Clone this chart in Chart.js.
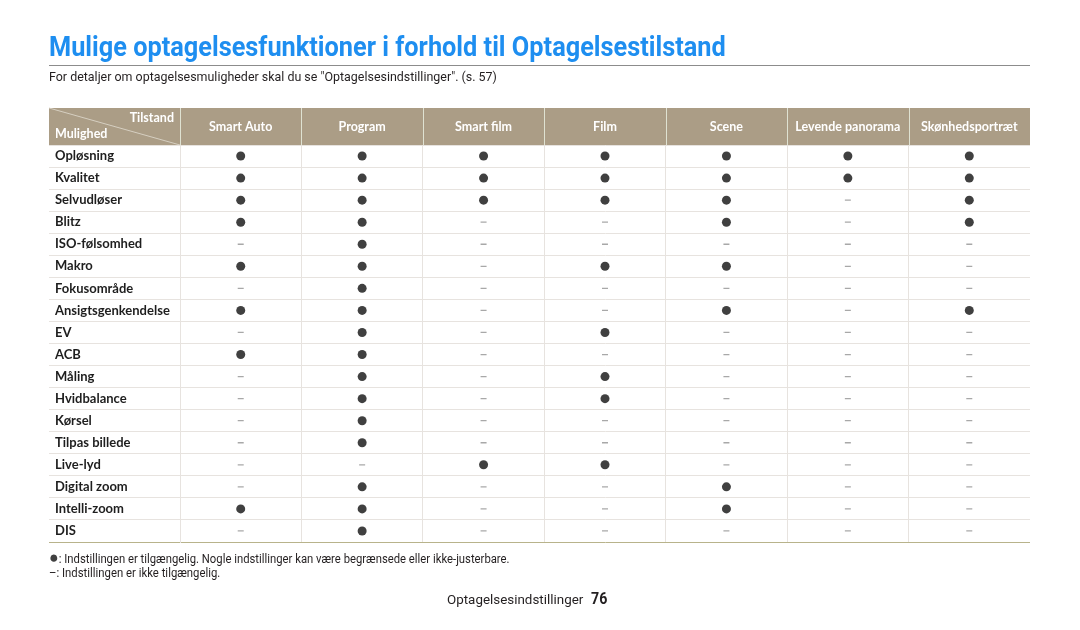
<!DOCTYPE html>
<html>
<head>
<meta charset="utf-8">
<script src="https://cdn.jsdelivr.net/npm/chart.js@4.4.1/dist/chart.umd.min.js"></script>
<style>
  html, body { margin: 0; padding: 0; background: #fff; }
  #page { position: relative; width: 1080px; height: 630px; overflow: hidden; }
  #modeChart { position: absolute; left: 0; top: 0; }
  .txt { position: absolute; white-space: nowrap; line-height: 1; font-family: 'Roboto', sans-serif; color: #231f20; transform-origin: 0 0; }
  #title { left: 49px; top: 34px; font-size: 27px; font-weight: bold; color: #1e8ef0; }
  #rule { position: absolute; left: 49px; top: 65px; width: 981px; height: 1px; background: #8c8c8c; }
  #subtitle { left: 49px; top: 70px; font-size: 13.5px; }
  #note1 { left: 49px; top: 551px; font-size: 12px; }
  #note2 { left: 49px; top: 566.5px; font-size: 12px; }
  #note1 .dot { font-size: 17px; line-height: 12px; color: #404040; }
  #pageName { left: 447px; top: 593px; font-size: 13px; }
  #pageNum { left: 591px; top: 591px; font-size: 16px; font-weight: bold; }
</style>
</head>
<body>
<div id="page">
  <canvas id="modeChart" width="1080" height="630"></canvas>
  <div class="txt" id="title">Mulige optagelsesfunktioner i forhold til Optagelsestilstand</div>
  <div id="rule"></div>
  <div class="txt" id="subtitle">For detaljer om optagelsesmuligheder skal du se "Optagelsesindstillinger". (s. 57)</div>
  <div class="txt" id="note1"><span class="dot">●</span>: Indstillingen er tilgængelig. Nogle indstillinger kan være begrænsede eller ikke-justerbare.</div>
  <div class="txt" id="note2">–: Indstillingen er ikke tilgængelig.</div>
  <div class="txt" id="pageName">Optagelsesindstillinger</div>
  <div class="txt" id="pageNum">76</div>
</div>
<script>
// Modes (columns) and options (rows)
const modes = ['Smart Auto', 'Program', 'Smart film', 'Film', 'Scene', 'Levende panorama', 'Skønhedsportræt'];
const features = ['Opløsning', 'Kvalitet', 'Selvudløser', 'Blitz', 'ISO-følsomhed', 'Makro', 'Fokusområde',
    'Ansigtsgenkendelse', 'EV', 'ACB', 'Måling', 'Hvidbalance', 'Kørsel', 'Tilpas billede', 'Live-lyd',
    'Digital zoom', 'Intelli-zoom', 'DIS'];

// 1 = available (dot), 0 = not available (dash), one value per row above
const smartAuto    = [1, 1, 1, 1, 0, 1, 0, 1, 0, 1, 0, 0, 0, 0, 0, 0, 1, 0];
const program      = [1, 1, 1, 1, 1, 1, 1, 1, 1, 1, 1, 1, 1, 1, 0, 1, 1, 1];
const smartFilm    = [1, 1, 1, 0, 0, 0, 0, 0, 0, 0, 0, 0, 0, 0, 1, 0, 0, 0];
const film         = [1, 1, 1, 0, 0, 1, 0, 0, 1, 0, 1, 1, 0, 0, 1, 0, 0, 0];
const scene        = [1, 1, 1, 1, 0, 1, 0, 1, 0, 0, 0, 0, 0, 0, 0, 1, 1, 0];
const livePanorama = [1, 1, 0, 0, 0, 0, 0, 0, 0, 0, 0, 0, 0, 0, 0, 0, 0, 0];
const beautyShot   = [1, 1, 1, 1, 0, 0, 0, 1, 0, 0, 0, 0, 0, 0, 0, 0, 0, 0];

const columns = [smartAuto, program, smartFilm, film, scene, livePanorama, beautyShot];

const headerColor = '#ab9d86';
const gridColor = '#e7e3df';
const bottomColor = '#b8b38b';
const rowFont = { family: "'Lato', sans-serif", size: 13, weight: 'bold' };
const headFont = { family: "'Lato', sans-serif", size: 12.5, weight: 'bold' };

// Split cells into available / not available points
const onPoints = [];
const offPoints = [];
columns.forEach((col, i) => {
    col.forEach((v, j) => {
        (v ? onPoints : offPoints).push({ x: modes[i], y: features[j] });
    });
});

// Header band, column separators and the corner cell
const headerPlugin = {
    id: 'headerBand',
    beforeDraw(chart) {
        const { ctx, chartArea } = chart;
        const x = chart.scales.x;
        const left = 49;
        const colWidth = x.width / modes.length;
        ctx.save();
        ctx.fillStyle = headerColor;
        ctx.fillRect(left, x.top, chartArea.right - left, x.bottom - x.top);

        ctx.strokeStyle = '#dfe2d2';
        ctx.lineWidth = 1;
        for (let i = 0; i < modes.length; i++) {
            const xb = Math.round(x.getPixelForValue(i) - colWidth / 2) + 0.5;
            ctx.beginPath();
            ctx.moveTo(xb, x.top);
            ctx.lineTo(xb, x.bottom);
            ctx.stroke();
        }

        ctx.strokeStyle = '#d6cfc1';
        ctx.beginPath();
        ctx.moveTo(left, x.top);
        ctx.lineTo(chartArea.left, x.bottom);
        ctx.stroke();

        ctx.fillStyle = '#fff';
        ctx.font = "bold 12.5px 'Lato', sans-serif";
        ctx.textBaseline = 'alphabetic';
        ctx.textAlign = 'right';
        ctx.fillText('Tilstand', chartArea.left - 6, x.top + 14);
        ctx.textAlign = 'left';
        ctx.fillText('Mulighed', 55, x.top + 30);
        ctx.restore();
    }
};

const ctx = document.getElementById('modeChart').getContext('2d');
const modeChart = new Chart(ctx, {
    type: 'scatter',
    data: {
        datasets: [{
            label: 'Tilgængelig',
            data: onPoints,
            pointStyle: 'circle',
            pointRadius: 4.5,
            pointBackgroundColor: '#404040',
            pointBorderWidth: 0
        }, {
            label: 'Ikke tilgængelig',
            data: offPoints,
            pointStyle: 'line',
            pointRadius: 3,
            pointBorderColor: '#a8a8a8',
            pointBorderWidth: 1.3
        }]
    },
    options: {
        responsive: false,
        animation: false,
        events: [],
        layout: {
            padding: { left: 55, top: 108, right: 50, bottom: 88 }
        },
        plugins: {
            legend: { display: false },
            tooltip: { enabled: false }
        },
        scales: {
            x: {
                type: 'category',
                labels: modes,
                position: 'top',
                offset: true,
                grid: {
                    offset: true,
                    drawTicks: false,
                    color: c => c.type === 'tick' ? gridColor : 'rgba(0,0,0,0)'
                },
                border: { display: false },
                ticks: {
                    color: '#fff',
                    font: headFont,
                    padding: 11,
                    autoSkip: false,
                    maxRotation: 0
                },
                afterFit: s => { s.height = 37; }
            },
            y: {
                type: 'category',
                labels: features,
                offset: true,
                grid: {
                    offset: true,
                    tickLength: 131,
                    color: c => c.type === 'tick' ? gridColor : bottomColor
                },
                border: { color: gridColor },
                ticks: {
                    crossAlign: 'far',
                    color: '#1e1e1e',
                    font: rowFont,
                    autoSkip: false
                },
                afterFit: s => { s.width = 125; }
            }
        }
    },
    plugins: [headerPlugin]
});

// Squeeze the page texts to the widths they have in the layout
function fitWidth(id, target) {
    const el = document.getElementById(id);
    el.style.transform = 'scaleX(' + (target / el.offsetWidth) + ')';
}
fitWidth('title', 677);
fitWidth('subtitle', 448);
fitWidth('note1', 461);
fitWidth('note2', 171);
fitWidth('pageName', 136);
fitWidth('pageNum', 16);
</script>
</body>
</html>
